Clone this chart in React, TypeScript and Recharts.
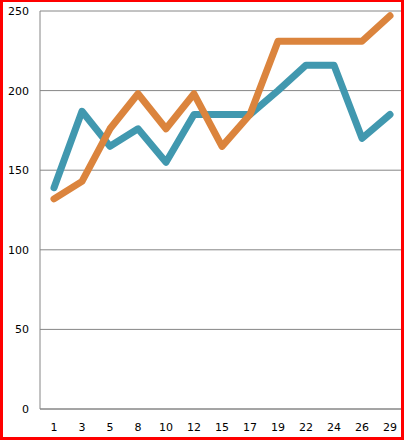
import React from 'react';
import { LineChart, Line, XAxis, YAxis, CartesianGrid } from 'recharts';

const categories = ['1', '3', '5', '8', '10', '12', '15', '17', '19', '22', '24', '26', '29'];
const blueSeries = [139, 187, 165, 176, 155, 185, 185, 185, 200, 216, 216, 170, 185];
const orangeSeries = [132, 143, 176, 198, 176, 198, 165, 185, 231, 231, 231, 231, 247];
const yTicks = [0, 50, 100, 150, 200, 250];

const data = categories.map((c, i) => ({ day: c, blue: blueSeries[i], orange: orangeSeries[i] }));

const tickStyle = { fontFamily: 'DejaVu Sans, Verdana, sans-serif', fontSize: 11, fill: '#000' };

export default function App() {
  return (
    <div style={{ position: 'absolute', left: 0, top: 0, width: 404, height: 440, background: '#fff' }}>
      <LineChart width={404} height={440} data={data} margin={{ top: 11, right: 0, bottom: 0, left: 0 }}>
        <CartesianGrid vertical={false} stroke="#868686" strokeWidth={1} />
        <XAxis
          dataKey="day"
          axisLine={{ stroke: '#868686' }}
          tickLine={false}
          tickSize={0}
          tickMargin={14}
          height={31}
          tick={tickStyle}
          interval={0}
          padding={{ left: 14, right: 14 }}
        />
        <YAxis
          domain={[0, 250]}
          ticks={yTicks}
          axisLine={{ stroke: '#868686' }}
          tickLine={false}
          tickSize={0}
          tickMargin={11}
          width={40}
          tick={tickStyle}
        />
        <Line
          dataKey="blue"
          type="linear"
          stroke="#4198AF"
          strokeWidth={7}
          dot={false}
          strokeLinejoin="round"
          strokeLinecap="round"
          isAnimationActive={false}
        />
        <Line
          dataKey="orange"
          type="linear"
          stroke="#DB843D"
          strokeWidth={7}
          dot={false}
          strokeLinejoin="round"
          strokeLinecap="round"
          isAnimationActive={false}
        />
      </LineChart>
      <div
        style={{
          position: 'absolute',
          left: 0,
          top: 0,
          width: 404,
          height: 440,
          boxSizing: 'border-box',
          borderTop: '2px solid #ff0000',
          borderLeft: '3px solid #ff0000',
          borderRight: '3px solid #ff0000',
          borderBottom: '3px solid #ff0000',
          pointerEvents: 'none',
        }}
      />
    </div>
  );
}
